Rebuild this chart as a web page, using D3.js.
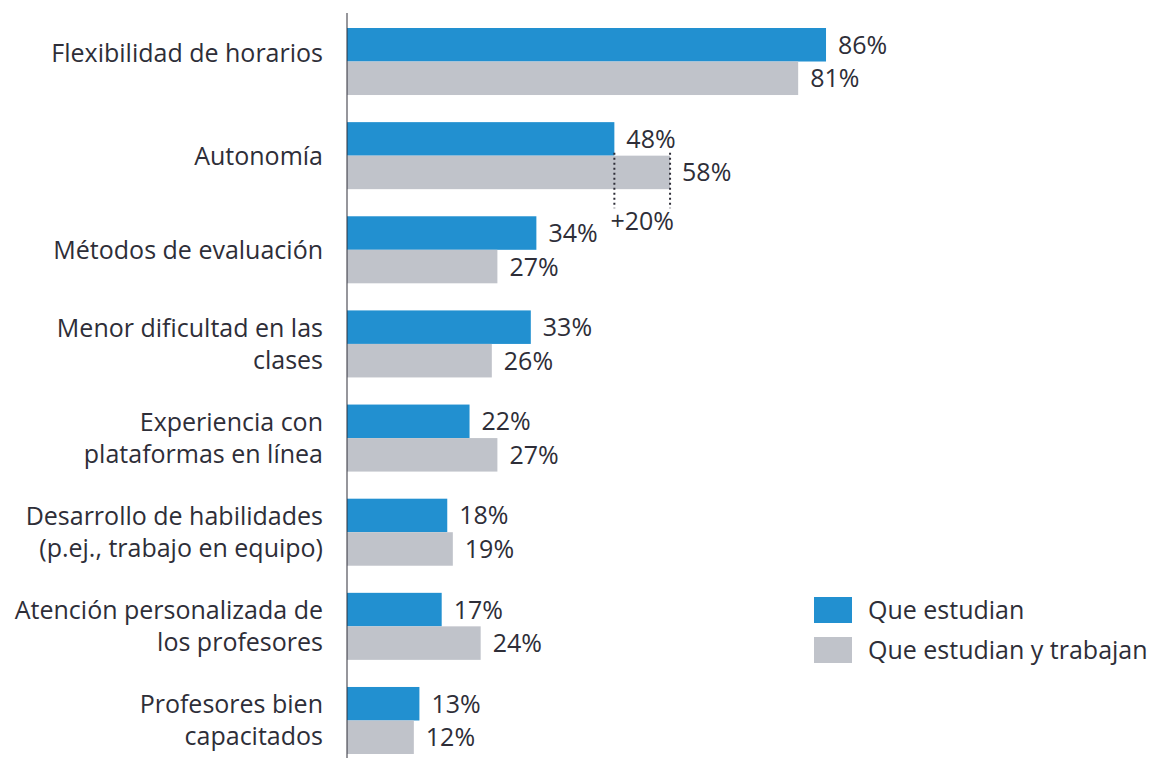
<!DOCTYPE html>
<html>
<head>
<meta charset="utf-8">
<script src="https://cdn.jsdelivr.net/npm/d3@7"></script>
<style>
  body { margin: 0; background: #fff; }
  text { font-family: "Open Sans", "Liberation Sans", sans-serif; fill: #2e2e38; }
</style>
</head>
<body>
<div id="chart"></div>
<script>
// categories (line breaks as in the original)
var categories = [
    ["Flexibilidad de horarios"],
    ["Autonomía"],
    ["Métodos de evaluación"],
    ["Menor dificultad en las", "clases"],
    ["Experiencia con", "plataformas en línea"],
    ["Desarrollo de habilidades", "(p.ej., trabajo en equipo)"],
    ["Atención personalizada de", "los profesores"],
    ["Profesores bien", "capacitados"]
];
var estudian = [86, 48, 34, 33, 22, 18, 17, 13];
var estudianTrabajan = [81, 58, 27, 26, 27, 19, 24, 12];
var seriesNames = ["Que estudian", "Que estudian y trabajan"];
var colorPalette = ["#2290d0", "#c0c3ca"];
var diffLabel = "+20%";

var width = 1156, height = 758;
var keys = categories.map(c => c.join(" "));
var fontSize = "25px";

var svg = d3.select("#chart")
    .append("svg")
    .attr("width", width)
    .attr("height", height);

var x = d3.scaleLinear()
    .domain([0, 100])
    .range([347, 904]);

var y = d3.scaleBand()
    .domain(keys)
    .range([28, 754])
    .paddingInner(0.288)
    .paddingOuter(0);

var ySub = d3.scaleBand()
    .domain([0, 1])
    .range([0, y.bandwidth()]);

var rows = keys.map((k, i) => ({ key: k, lines: categories[i], values: [estudian[i], estudianTrabajan[i]] }));

var groups = svg.selectAll(".grp")
    .data(rows)
    .join("g")
    .attr("class", "grp")
    .attr("transform", d => "translate(0," + y(d.key) + ")");

// bars
groups.selectAll("rect")
    .data(d => d.values)
    .join("rect")
    .attr("x", x(0))
    .attr("y", (d, i) => ySub(i))
    .attr("width", d => x(d) - x(0))
    .attr("height", ySub.bandwidth())
    .attr("fill", (d, i) => colorPalette[i]);

// value labels
groups.selectAll(".val")
    .data(d => d.values)
    .join("text")
    .attr("class", "val")
    .attr("x", d => x(d) + 12)
    .attr("y", (d, i) => ySub(i) + ySub.bandwidth() / 2)
    .attr("dy", "0.36em")
    .style("font-size", fontSize)
    .text(d => d + "%");

// category labels
var catLabels = groups.append("text")
    .attr("text-anchor", "end")
    .style("font-size", fontSize)
    .attr("transform", (d, i) => "translate(323," + (y.bandwidth() / 2 + (i === 0 ? -9 : 0)) + ")");

catLabels.selectAll("tspan")
    .data(d => d.lines.map((l, j) => ({ l: l, j: j, n: d.lines.length })))
    .join("tspan")
    .attr("x", 0)
    .attr("y", d => (d.j - (d.n - 1) / 2) * 32)
    .attr("dy", "0.36em")
    .text(d => d.l);

// axis line
svg.append("line")
    .attr("x1", x(0)).attr("x2", x(0))
    .attr("y1", 13).attr("y2", height)
    .attr("stroke", "#2e2e38")
    .attr("stroke-width", 1);

// difference bracket on Autonomía
var aut = keys[1];
var bracketTop = y(aut) + ySub(1) - 3;
var bracketBottom = y(aut) + y.bandwidth() + 19;
[estudian[1], estudianTrabajan[1]].forEach(v => {
    svg.append("line")
        .attr("x1", x(v)).attr("x2", x(v))
        .attr("y1", bracketTop).attr("y2", bracketBottom)
        .attr("stroke", "#2e2e38")
        .attr("stroke-width", 2)
        .attr("stroke-dasharray", "2,3");
});
svg.append("text")
    .attr("x", (x(estudian[1]) + x(estudianTrabajan[1])) / 2)
    .attr("y", bracketBottom + 22)
    .attr("text-anchor", "middle")
    .style("font-size", fontSize)
    .text(diffLabel);

// legend
var legend = svg.selectAll(".legend")
    .data(seriesNames)
    .join("g")
    .attr("class", "legend")
    .attr("transform", (d, i) => "translate(814," + (597 + i * 40) + ")");

legend.append("rect")
    .attr("width", 38)
    .attr("height", 26)
    .attr("fill", (d, i) => colorPalette[i]);

legend.append("text")
    .attr("x", 54)
    .attr("y", 13)
    .attr("dy", "0.36em")
    .style("font-size", fontSize)
    .text(d => d);
</script>
</body>
</html>
